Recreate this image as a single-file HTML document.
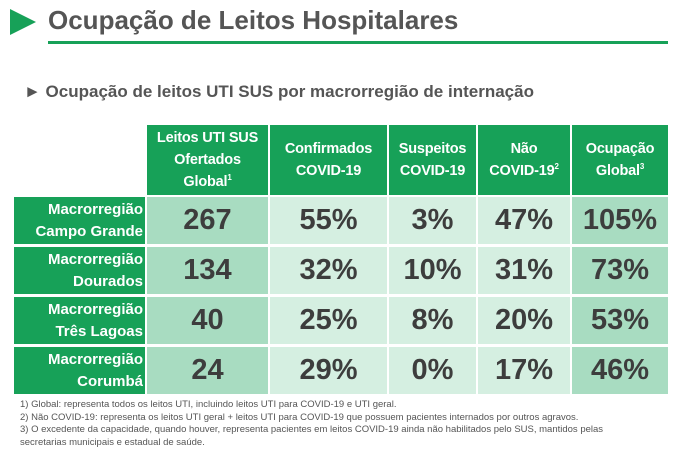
<!DOCTYPE html>
<html><head><meta charset="utf-8">
<style>
body{margin:0;width:680px;height:458px;background:#fff;font-family:"Liberation Sans",sans-serif;position:relative;overflow:hidden}
.a{position:absolute}
.hd{position:absolute;background:#17a158;color:#fff;font-weight:bold;font-size:14.5px;text-align:center;display:flex;align-items:center;justify-content:center;line-height:22px;letter-spacing:-0.2px}
.rh{position:absolute;background:#17a158;color:#fff;font-weight:bold;font-size:15px;text-align:right;line-height:22px;padding-right:2px;box-sizing:border-box;display:flex;flex-direction:column;justify-content:center;align-items:flex-end}
.c{position:absolute;display:flex;align-items:center;justify-content:center;font-weight:bold;font-size:29px;color:#3d3d3d}
sup{font-size:8px;line-height:0}
.fn{position:absolute;left:20px;font-size:9.5px;color:#555;line-height:12.5px}
</style></head><body>
<svg class="a" style="left:10px;top:9px" width="26" height="26"><polygon points="0,0 26,13 0,26" fill="#17a158"/></svg>
<div class="a" style="left:48px;top:5px;font-size:26px;font-weight:bold;color:#555">Ocupação de Leitos Hospitalares</div>
<div class="a" style="left:48px;top:41px;width:620px;height:3px;background:#17a158"></div>
<div class="a" style="left:24px;top:82px;font-size:17px;font-weight:bold;color:#555">► Ocupação de leitos UTI SUS por macrorregião de internação</div>
<div id="tbl"></div>
<div class="fn" style="top:399px">1) Global: representa todos os leitos UTI, incluindo leitos UTI para COVID-19 e UTI geral.<br>2) Não COVID-19: representa os leitos UTI geral + leitos UTI para COVID-19 que possuem pacientes internados por outros agravos.<br>3) O excedente da capacidade, quando houver, representa pacientes em leitos COVID-19 ainda não habilitados pelo SUS, mantidos pelas<br>secretarias municipais e estadual de saúde.</div>
<script>
const headers=["Leitos UTI SUS<br>Ofertados<br>Global<sup>1</sup>","Confirmados<br>COVID-19","Suspeitos<br>COVID-19","Não<br>COVID-19<sup>2</sup>","Ocupação<br>Global<sup>3</sup>"];
const regions=["Macrorregião<br>Campo Grande","Macrorregião<br>Dourados","Macrorregião<br>Três Lagoas","Macrorregião<br>Corumbá"];
const beds=["267","134","40","24"];
const confirmed=["55%","32%","25%","29%"];
const suspected=["3%","10%","8%","0%"];
const nonCovid=["47%","31%","20%","17%"];
const globalOcc=["105%","73%","53%","46%"];
const cols=[[147,121],[270,117],[389,87],[478,92],[572,96]];
const rowsY=[197,247,297,347],rowH=47;
const colBg=["#a8dcc1","#d5efe1","#d5efe1","#d5efe1","#a8dcc1"];
const t=document.getElementById('tbl');
headers.forEach((h,i)=>{const d=document.createElement('div');d.className='hd';


d.style.left=cols[i][0]+'px';d.style.top='125px';d.style.width=cols[i][1]+'px';d.style.height='70px';d.innerHTML='<div>'+h+'</div>';t.appendChild(d);});
const series=[beds,confirmed,suspected,nonCovid,globalOcc];
regions.forEach((r,j)=>{const d=document.createElement('div');d.className='rh';


d.style.left='14px';d.style.top=rowsY[j]+'px';d.style.width='131px';d.style.height=rowH+'px';
const parts=r.split('<br>');d.innerHTML='<div>'+parts[0]+'</div><div>'+parts[1]+'</div>';t.appendChild(d);
series.forEach((s,i)=>{const c=document.createElement('div');c.className='c';


c.style.left=cols[i][0]+'px';c.style.top=rowsY[j]+'px';c.style.width=cols[i][1]+'px';c.style.height=rowH+'px';c.style.background=colBg[i];c.textContent=s[j];t.appendChild(c);});});
</script>
</body></html>
